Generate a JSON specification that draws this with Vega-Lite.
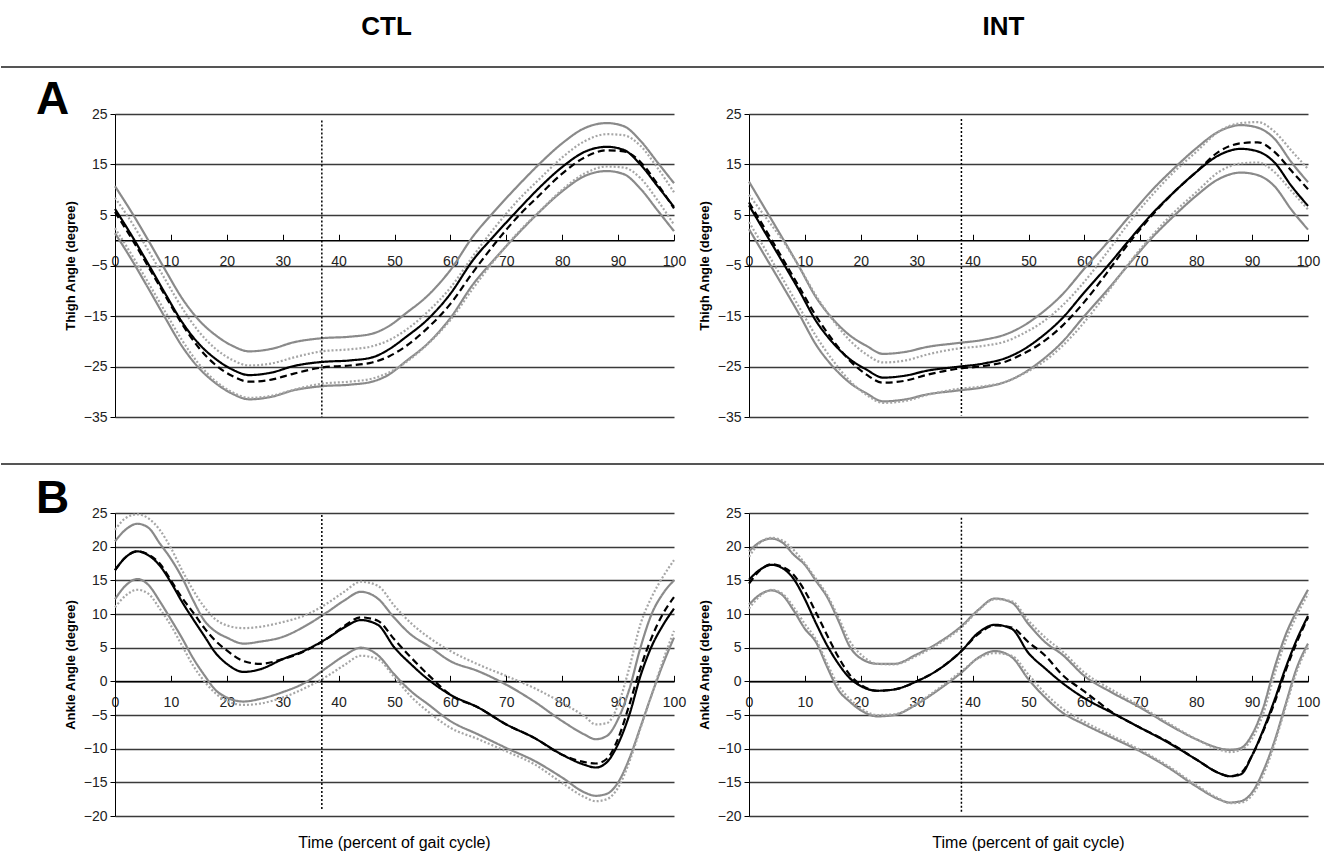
{
"$schema":"https://vega.github.io/schema/vega-lite/v6.json",
"background":"white",
"padding":0,
"columns":5,
"spacing":{"row":47,"column":0},
"bounds":"flush",
"config":{
 "view":{"stroke":null},
 "font":"Liberation Sans",
 "axis":{"labelFont":"Liberation Sans","titleFont":"Liberation Sans","labelColor":"#222","labelFontSize":14,"domainColor":"black","tickColor":"black","labelFlush":false,"labelOverlap":false,"titleColor":"black"},
 "title":{"font":"Liberation Sans","color":"black"},
 "line":{"interpolate":"monotone"}
},
"datasets":{
"ctlA":[
{"s":"m1","x":0,"y":6.2},{"s":"m1","x":3,"y":0.9},{"s":"m1","x":6,"y":-4.8},{"s":"m1","x":9,"y":-10.6},{"s":"m1","x":12,"y":-16.2},{"s":"m1","x":15,"y":-20.5},{"s":"m1","x":18,"y":-23.5},{"s":"m1","x":21,"y":-25.6},{"s":"m1","x":24,"y":-26.7},{"s":"m1","x":28,"y":-26.2},{"s":"m1","x":32,"y":-24.9},{"s":"m1","x":37,"y":-24.1},{"s":"m1","x":42,"y":-23.8},{"s":"m1","x":46,"y":-23.2},{"s":"m1","x":49,"y":-21.6},{"s":"m1","x":52,"y":-19.2},{"s":"m1","x":56,"y":-15.6},{"s":"m1","x":60,"y":-10.6},{"s":"m1","x":64,"y":-4.0},{"s":"m1","x":68,"y":1.1},{"s":"m1","x":72,"y":5.9},{"s":"m1","x":76,"y":10.5},{"s":"m1","x":80,"y":14.5},{"s":"m1","x":84,"y":17.5},{"s":"m1","x":88,"y":18.5},{"s":"m1","x":91,"y":17.9},{"s":"m1","x":94,"y":15.0},{"s":"m1","x":97,"y":10.8},{"s":"m1","x":100,"y":6.6},
{"s":"m2","x":0,"y":5.6},{"s":"m2","x":3,"y":0.3},{"s":"m2","x":6,"y":-5.3},{"s":"m2","x":9,"y":-11.0},{"s":"m2","x":12,"y":-16.6},{"s":"m2","x":15,"y":-21.3},{"s":"m2","x":18,"y":-24.7},{"s":"m2","x":21,"y":-26.9},{"s":"m2","x":24,"y":-28.0},{"s":"m2","x":28,"y":-27.6},{"s":"m2","x":32,"y":-26.4},{"s":"m2","x":37,"y":-25.2},{"s":"m2","x":42,"y":-24.8},{"s":"m2","x":46,"y":-24.2},{"s":"m2","x":49,"y":-23.0},{"s":"m2","x":52,"y":-21.0},{"s":"m2","x":56,"y":-17.3},{"s":"m2","x":60,"y":-12.6},{"s":"m2","x":64,"y":-6.4},{"s":"m2","x":68,"y":-0.6},{"s":"m2","x":72,"y":4.6},{"s":"m2","x":76,"y":9.0},{"s":"m2","x":80,"y":13.2},{"s":"m2","x":84,"y":16.4},{"s":"m2","x":88,"y":17.8},{"s":"m2","x":91,"y":17.6},{"s":"m2","x":94,"y":15.5},{"s":"m2","x":97,"y":11.2},{"s":"m2","x":100,"y":6.3},
{"s":"u1","x":0,"y":10.7},{"s":"u1","x":3,"y":5.5},{"s":"u1","x":6,"y":-0.1},{"s":"u1","x":9,"y":-5.9},{"s":"u1","x":12,"y":-11.5},{"s":"u1","x":15,"y":-15.8},{"s":"u1","x":18,"y":-18.8},{"s":"u1","x":21,"y":-20.9},{"s":"u1","x":24,"y":-22.0},{"s":"u1","x":28,"y":-21.5},{"s":"u1","x":32,"y":-20.2},{"s":"u1","x":37,"y":-19.4},{"s":"u1","x":42,"y":-19.1},{"s":"u1","x":46,"y":-18.5},{"s":"u1","x":49,"y":-17.0},{"s":"u1","x":52,"y":-14.5},{"s":"u1","x":56,"y":-10.9},{"s":"u1","x":60,"y":-5.9},{"s":"u1","x":64,"y":0.7},{"s":"u1","x":68,"y":5.9},{"s":"u1","x":72,"y":10.7},{"s":"u1","x":76,"y":15.2},{"s":"u1","x":80,"y":19.2},{"s":"u1","x":84,"y":22.2},{"s":"u1","x":88,"y":23.2},{"s":"u1","x":91,"y":22.6},{"s":"u1","x":94,"y":19.7},{"s":"u1","x":97,"y":15.5},{"s":"u1","x":100,"y":11.3},
{"s":"l1","x":0,"y":1.4},{"s":"l1","x":3,"y":-3.9},{"s":"l1","x":6,"y":-9.6},{"s":"l1","x":9,"y":-15.4},{"s":"l1","x":12,"y":-21.0},{"s":"l1","x":15,"y":-25.3},{"s":"l1","x":18,"y":-28.3},{"s":"l1","x":21,"y":-30.4},{"s":"l1","x":24,"y":-31.5},{"s":"l1","x":28,"y":-31.0},{"s":"l1","x":32,"y":-29.7},{"s":"l1","x":37,"y":-28.9},{"s":"l1","x":42,"y":-28.6},{"s":"l1","x":46,"y":-28.0},{"s":"l1","x":49,"y":-26.6},{"s":"l1","x":52,"y":-24.0},{"s":"l1","x":56,"y":-20.4},{"s":"l1","x":60,"y":-15.4},{"s":"l1","x":64,"y":-8.8},{"s":"l1","x":68,"y":-3.6},{"s":"l1","x":72,"y":1.2},{"s":"l1","x":76,"y":5.7},{"s":"l1","x":80,"y":9.7},{"s":"l1","x":84,"y":12.7},{"s":"l1","x":88,"y":13.7},{"s":"l1","x":91,"y":13.1},{"s":"l1","x":94,"y":10.2},{"s":"l1","x":97,"y":6.0},{"s":"l1","x":100,"y":1.8},
{"s":"u2","x":0,"y":8.4},{"s":"u2","x":3,"y":3.5},{"s":"u2","x":6,"y":-2.1},{"s":"u2","x":9,"y":-7.8},{"s":"u2","x":12,"y":-13.4},{"s":"u2","x":15,"y":-18.1},{"s":"u2","x":18,"y":-21.5},{"s":"u2","x":21,"y":-23.7},{"s":"u2","x":24,"y":-24.8},{"s":"u2","x":28,"y":-24.4},{"s":"u2","x":32,"y":-23.2},{"s":"u2","x":37,"y":-22.0},{"s":"u2","x":42,"y":-21.6},{"s":"u2","x":46,"y":-21.0},{"s":"u2","x":49,"y":-19.8},{"s":"u2","x":52,"y":-17.8},{"s":"u2","x":56,"y":-14.1},{"s":"u2","x":60,"y":-9.4},{"s":"u2","x":64,"y":-3.2},{"s":"u2","x":68,"y":2.6},{"s":"u2","x":72,"y":7.8},{"s":"u2","x":76,"y":12.2},{"s":"u2","x":80,"y":16.4},{"s":"u2","x":84,"y":19.6},{"s":"u2","x":88,"y":21.0},{"s":"u2","x":91,"y":20.8},{"s":"u2","x":94,"y":18.7},{"s":"u2","x":97,"y":14.4},{"s":"u2","x":100,"y":9.5},
{"s":"l2","x":0,"y":2.4},{"s":"l2","x":3,"y":-2.9},{"s":"l2","x":6,"y":-8.5},{"s":"l2","x":9,"y":-14.2},{"s":"l2","x":12,"y":-19.8},{"s":"l2","x":15,"y":-24.5},{"s":"l2","x":18,"y":-27.9},{"s":"l2","x":21,"y":-30.1},{"s":"l2","x":24,"y":-31.2},{"s":"l2","x":28,"y":-30.8},{"s":"l2","x":32,"y":-29.6},{"s":"l2","x":37,"y":-28.4},{"s":"l2","x":42,"y":-28.0},{"s":"l2","x":46,"y":-27.4},{"s":"l2","x":49,"y":-26.2},{"s":"l2","x":52,"y":-24.2},{"s":"l2","x":56,"y":-20.5},{"s":"l2","x":60,"y":-15.8},{"s":"l2","x":64,"y":-9.6},{"s":"l2","x":68,"y":-3.8},{"s":"l2","x":72,"y":1.4},{"s":"l2","x":76,"y":5.8},{"s":"l2","x":80,"y":10.0},{"s":"l2","x":84,"y":13.2},{"s":"l2","x":88,"y":14.6},{"s":"l2","x":91,"y":14.4},{"s":"l2","x":94,"y":12.3},{"s":"l2","x":97,"y":8.0},{"s":"l2","x":100,"y":3.1}
],
"intA":[
{"s":"m1","x":0,"y":6.9},{"s":"m1","x":3,"y":1.3},{"s":"m1","x":6,"y":-4.3},{"s":"m1","x":9,"y":-10.0},{"s":"m1","x":12,"y":-16.0},{"s":"m1","x":15,"y":-20.3},{"s":"m1","x":18,"y":-23.5},{"s":"m1","x":21,"y":-25.6},{"s":"m1","x":24,"y":-27.2},{"s":"m1","x":28,"y":-26.8},{"s":"m1","x":32,"y":-25.8},{"s":"m1","x":37,"y":-25.1},{"s":"m1","x":42,"y":-24.4},{"s":"m1","x":46,"y":-23.3},{"s":"m1","x":49,"y":-21.7},{"s":"m1","x":52,"y":-19.4},{"s":"m1","x":56,"y":-15.5},{"s":"m1","x":60,"y":-10.3},{"s":"m1","x":64,"y":-5.3},{"s":"m1","x":68,"y":0.0},{"s":"m1","x":72,"y":5.1},{"s":"m1","x":76,"y":9.5},{"s":"m1","x":80,"y":13.5},{"s":"m1","x":84,"y":16.8},{"s":"m1","x":88,"y":18.1},{"s":"m1","x":91,"y":17.6},{"s":"m1","x":94,"y":15.4},{"s":"m1","x":97,"y":10.8},{"s":"m1","x":100,"y":6.8},
{"s":"m2","x":0,"y":7.5},{"s":"m2","x":3,"y":2.0},{"s":"m2","x":6,"y":-3.6},{"s":"m2","x":9,"y":-9.3},{"s":"m2","x":12,"y":-15.0},{"s":"m2","x":15,"y":-19.8},{"s":"m2","x":18,"y":-23.8},{"s":"m2","x":21,"y":-26.6},{"s":"m2","x":24,"y":-28.2},{"s":"m2","x":28,"y":-27.8},{"s":"m2","x":32,"y":-26.6},{"s":"m2","x":37,"y":-25.5},{"s":"m2","x":42,"y":-24.9},{"s":"m2","x":46,"y":-24.0},{"s":"m2","x":49,"y":-22.5},{"s":"m2","x":52,"y":-20.6},{"s":"m2","x":56,"y":-17.0},{"s":"m2","x":60,"y":-12.2},{"s":"m2","x":64,"y":-6.5},{"s":"m2","x":68,"y":-0.5},{"s":"m2","x":72,"y":4.8},{"s":"m2","x":76,"y":9.5},{"s":"m2","x":80,"y":13.5},{"s":"m2","x":84,"y":17.5},{"s":"m2","x":88,"y":19.2},{"s":"m2","x":91,"y":19.4},{"s":"m2","x":94,"y":17.5},{"s":"m2","x":97,"y":13.8},{"s":"m2","x":100,"y":10.1},
{"s":"u1","x":0,"y":11.6},{"s":"u1","x":3,"y":6.0},{"s":"u1","x":6,"y":0.4},{"s":"u1","x":9,"y":-5.3},{"s":"u1","x":12,"y":-11.3},{"s":"u1","x":15,"y":-15.6},{"s":"u1","x":18,"y":-18.8},{"s":"u1","x":21,"y":-20.9},{"s":"u1","x":24,"y":-22.5},{"s":"u1","x":28,"y":-22.1},{"s":"u1","x":32,"y":-21.1},{"s":"u1","x":37,"y":-20.4},{"s":"u1","x":42,"y":-19.7},{"s":"u1","x":46,"y":-18.6},{"s":"u1","x":49,"y":-17.0},{"s":"u1","x":52,"y":-14.7},{"s":"u1","x":56,"y":-10.8},{"s":"u1","x":60,"y":-5.6},{"s":"u1","x":64,"y":-0.6},{"s":"u1","x":68,"y":4.7},{"s":"u1","x":72,"y":9.8},{"s":"u1","x":76,"y":14.2},{"s":"u1","x":80,"y":18.2},{"s":"u1","x":84,"y":21.5},{"s":"u1","x":88,"y":22.8},{"s":"u1","x":91,"y":22.3},{"s":"u1","x":94,"y":20.1},{"s":"u1","x":97,"y":15.5},{"s":"u1","x":100,"y":11.5},
{"s":"l1","x":0,"y":2.2},{"s":"l1","x":3,"y":-3.4},{"s":"l1","x":6,"y":-9.0},{"s":"l1","x":9,"y":-14.7},{"s":"l1","x":12,"y":-20.7},{"s":"l1","x":15,"y":-25.0},{"s":"l1","x":18,"y":-28.2},{"s":"l1","x":21,"y":-30.3},{"s":"l1","x":24,"y":-31.9},{"s":"l1","x":28,"y":-31.5},{"s":"l1","x":32,"y":-30.5},{"s":"l1","x":37,"y":-29.8},{"s":"l1","x":42,"y":-29.1},{"s":"l1","x":46,"y":-28.0},{"s":"l1","x":49,"y":-26.4},{"s":"l1","x":52,"y":-24.1},{"s":"l1","x":56,"y":-20.2},{"s":"l1","x":60,"y":-15.0},{"s":"l1","x":64,"y":-10.0},{"s":"l1","x":68,"y":-4.7},{"s":"l1","x":72,"y":0.4},{"s":"l1","x":76,"y":4.8},{"s":"l1","x":80,"y":8.8},{"s":"l1","x":84,"y":12.1},{"s":"l1","x":88,"y":13.4},{"s":"l1","x":91,"y":12.9},{"s":"l1","x":94,"y":10.7},{"s":"l1","x":97,"y":6.1},{"s":"l1","x":100,"y":2.1},
{"s":"u2","x":0,"y":9.0},{"s":"u2","x":3,"y":4.5},{"s":"u2","x":6,"y":0.0},{"s":"u2","x":9,"y":-5.3},{"s":"u2","x":12,"y":-11.0},{"s":"u2","x":15,"y":-15.8},{"s":"u2","x":18,"y":-19.8},{"s":"u2","x":21,"y":-22.6},{"s":"u2","x":24,"y":-24.2},{"s":"u2","x":28,"y":-23.8},{"s":"u2","x":32,"y":-22.6},{"s":"u2","x":37,"y":-21.5},{"s":"u2","x":42,"y":-20.9},{"s":"u2","x":46,"y":-20.0},{"s":"u2","x":49,"y":-18.5},{"s":"u2","x":52,"y":-16.6},{"s":"u2","x":56,"y":-13.0},{"s":"u2","x":60,"y":-8.2},{"s":"u2","x":64,"y":-2.5},{"s":"u2","x":68,"y":3.5},{"s":"u2","x":72,"y":8.8},{"s":"u2","x":76,"y":13.5},{"s":"u2","x":80,"y":17.5},{"s":"u2","x":84,"y":21.5},{"s":"u2","x":88,"y":23.2},{"s":"u2","x":91,"y":23.4},{"s":"u2","x":94,"y":21.5},{"s":"u2","x":97,"y":17.8},{"s":"u2","x":100,"y":14.1},
{"s":"l2","x":0,"y":3.6},{"s":"l2","x":3,"y":-2.0},{"s":"l2","x":6,"y":-7.6},{"s":"l2","x":9,"y":-13.3},{"s":"l2","x":12,"y":-19.0},{"s":"l2","x":15,"y":-23.8},{"s":"l2","x":18,"y":-27.8},{"s":"l2","x":21,"y":-30.6},{"s":"l2","x":24,"y":-32.2},{"s":"l2","x":28,"y":-31.8},{"s":"l2","x":32,"y":-30.6},{"s":"l2","x":37,"y":-29.5},{"s":"l2","x":42,"y":-28.9},{"s":"l2","x":46,"y":-28.0},{"s":"l2","x":49,"y":-26.5},{"s":"l2","x":52,"y":-24.6},{"s":"l2","x":56,"y":-21.0},{"s":"l2","x":60,"y":-16.2},{"s":"l2","x":64,"y":-10.5},{"s":"l2","x":68,"y":-4.5},{"s":"l2","x":72,"y":0.8},{"s":"l2","x":76,"y":5.5},{"s":"l2","x":80,"y":9.5},{"s":"l2","x":84,"y":13.5},{"s":"l2","x":88,"y":15.2},{"s":"l2","x":91,"y":15.4},{"s":"l2","x":94,"y":13.5},{"s":"l2","x":97,"y":9.8},{"s":"l2","x":100,"y":6.1}
],
"ctlB":[
{"s":"m1","x":0,"y":16.5},{"s":"m1","x":2,"y":18.5},{"s":"m1","x":4,"y":19.3},{"s":"m1","x":6,"y":18.7},{"s":"m1","x":8,"y":17.2},{"s":"m1","x":10,"y":14.7},{"s":"m1","x":12,"y":11.8},{"s":"m1","x":14,"y":9.2},{"s":"m1","x":16,"y":6.7},{"s":"m1","x":18,"y":4.2},{"s":"m1","x":20,"y":2.6},{"s":"m1","x":23,"y":1.4},{"s":"m1","x":26,"y":1.8},{"s":"m1","x":30,"y":3.3},{"s":"m1","x":34,"y":4.6},{"s":"m1","x":38,"y":6.4},{"s":"m1","x":41,"y":8.0},{"s":"m1","x":44,"y":9.1},{"s":"m1","x":47,"y":8.4},{"s":"m1","x":50,"y":5.0},{"s":"m1","x":53,"y":2.5},{"s":"m1","x":56,"y":0.3},{"s":"m1","x":60,"y":-2.0},{"s":"m1","x":65,"y":-3.9},{"s":"m1","x":70,"y":-6.4},{"s":"m1","x":75,"y":-8.4},{"s":"m1","x":80,"y":-10.9},{"s":"m1","x":84,"y":-12.4},{"s":"m1","x":86,"y":-12.8},{"s":"m1","x":88,"y":-12.0},{"s":"m1","x":90,"y":-9.3},{"s":"m1","x":92,"y":-5.0},{"s":"m1","x":94,"y":0.8},{"s":"m1","x":96,"y":5.2},{"s":"m1","x":98,"y":8.3},{"s":"m1","x":100,"y":10.8},
{"s":"m2","x":0,"y":16.5},{"s":"m2","x":2,"y":18.5},{"s":"m2","x":4,"y":19.3},{"s":"m2","x":6,"y":18.8},{"s":"m2","x":8,"y":17.5},{"s":"m2","x":10,"y":15.0},{"s":"m2","x":12,"y":12.4},{"s":"m2","x":14,"y":10.2},{"s":"m2","x":16,"y":7.9},{"s":"m2","x":18,"y":6.0},{"s":"m2","x":20,"y":4.6},{"s":"m2","x":23,"y":3.0},{"s":"m2","x":26,"y":2.6},{"s":"m2","x":30,"y":3.3},{"s":"m2","x":34,"y":4.5},{"s":"m2","x":38,"y":6.4},{"s":"m2","x":41,"y":8.2},{"s":"m2","x":44,"y":9.5},{"s":"m2","x":47,"y":9.0},{"s":"m2","x":50,"y":6.2},{"s":"m2","x":53,"y":3.5},{"s":"m2","x":56,"y":1.0},{"s":"m2","x":60,"y":-2.0},{"s":"m2","x":65,"y":-3.9},{"s":"m2","x":70,"y":-6.4},{"s":"m2","x":75,"y":-8.4},{"s":"m2","x":80,"y":-10.9},{"s":"m2","x":84,"y":-12.0},{"s":"m2","x":86,"y":-12.2},{"s":"m2","x":88,"y":-11.5},{"s":"m2","x":90,"y":-8.5},{"s":"m2","x":92,"y":-3.5},{"s":"m2","x":94,"y":2.0},{"s":"m2","x":96,"y":6.5},{"s":"m2","x":98,"y":10.0},{"s":"m2","x":100,"y":12.5},
{"s":"u1","x":0,"y":20.8},{"s":"u1","x":2,"y":22.6},{"s":"u1","x":4,"y":23.4},{"s":"u1","x":6,"y":22.8},{"s":"u1","x":8,"y":20.5},{"s":"u1","x":10,"y":18.2},{"s":"u1","x":12,"y":15.4},{"s":"u1","x":14,"y":12.0},{"s":"u1","x":16,"y":9.0},{"s":"u1","x":18,"y":7.4},{"s":"u1","x":20,"y":6.5},{"s":"u1","x":23,"y":5.6},{"s":"u1","x":26,"y":5.9},{"s":"u1","x":30,"y":6.6},{"s":"u1","x":34,"y":8.2},{"s":"u1","x":38,"y":10.3},{"s":"u1","x":41,"y":12.0},{"s":"u1","x":44,"y":13.3},{"s":"u1","x":47,"y":12.3},{"s":"u1","x":50,"y":9.4},{"s":"u1","x":53,"y":6.9},{"s":"u1","x":56,"y":5.3},{"s":"u1","x":60,"y":3.0},{"s":"u1","x":65,"y":1.5},{"s":"u1","x":70,"y":-0.5},{"s":"u1","x":75,"y":-3.0},{"s":"u1","x":80,"y":-5.9},{"s":"u1","x":84,"y":-7.9},{"s":"u1","x":86,"y":-8.6},{"s":"u1","x":88,"y":-8.1},{"s":"u1","x":90,"y":-5.6},{"s":"u1","x":92,"y":-1.2},{"s":"u1","x":94,"y":5.0},{"s":"u1","x":96,"y":10.0},{"s":"u1","x":98,"y":13.0},{"s":"u1","x":100,"y":15.0},
{"s":"l1","x":0,"y":12.2},{"s":"l1","x":2,"y":14.3},{"s":"l1","x":4,"y":15.2},{"s":"l1","x":6,"y":14.3},{"s":"l1","x":8,"y":11.9},{"s":"l1","x":10,"y":9.2},{"s":"l1","x":12,"y":6.4},{"s":"l1","x":14,"y":3.4},{"s":"l1","x":16,"y":0.9},{"s":"l1","x":18,"y":-1.3},{"s":"l1","x":20,"y":-2.4},{"s":"l1","x":23,"y":-3.0},{"s":"l1","x":26,"y":-2.6},{"s":"l1","x":30,"y":-1.6},{"s":"l1","x":34,"y":-0.2},{"s":"l1","x":38,"y":2.1},{"s":"l1","x":41,"y":3.8},{"s":"l1","x":44,"y":5.0},{"s":"l1","x":47,"y":3.9},{"s":"l1","x":50,"y":1.0},{"s":"l1","x":53,"y":-1.5},{"s":"l1","x":56,"y":-3.4},{"s":"l1","x":60,"y":-5.9},{"s":"l1","x":65,"y":-7.9},{"s":"l1","x":70,"y":-9.9},{"s":"l1","x":75,"y":-11.8},{"s":"l1","x":80,"y":-14.3},{"s":"l1","x":84,"y":-16.5},{"s":"l1","x":86,"y":-17.0},{"s":"l1","x":88,"y":-16.7},{"s":"l1","x":90,"y":-15.0},{"s":"l1","x":92,"y":-11.5},{"s":"l1","x":94,"y":-6.8},{"s":"l1","x":96,"y":-2.0},{"s":"l1","x":98,"y":2.5},{"s":"l1","x":100,"y":6.5},
{"s":"u2","x":0,"y":22.5},{"s":"u2","x":2,"y":24.3},{"s":"u2","x":4,"y":24.8},{"s":"u2","x":6,"y":24.2},{"s":"u2","x":8,"y":22.5},{"s":"u2","x":10,"y":19.8},{"s":"u2","x":12,"y":16.5},{"s":"u2","x":14,"y":13.5},{"s":"u2","x":16,"y":11.0},{"s":"u2","x":18,"y":9.2},{"s":"u2","x":20,"y":8.3},{"s":"u2","x":23,"y":7.9},{"s":"u2","x":26,"y":8.1},{"s":"u2","x":30,"y":8.8},{"s":"u2","x":34,"y":9.8},{"s":"u2","x":38,"y":11.6},{"s":"u2","x":41,"y":13.3},{"s":"u2","x":44,"y":14.8},{"s":"u2","x":47,"y":14.2},{"s":"u2","x":50,"y":11.2},{"s":"u2","x":53,"y":8.6},{"s":"u2","x":56,"y":6.6},{"s":"u2","x":60,"y":4.5},{"s":"u2","x":65,"y":2.5},{"s":"u2","x":70,"y":0.8},{"s":"u2","x":75,"y":-1.0},{"s":"u2","x":80,"y":-3.2},{"s":"u2","x":84,"y":-5.2},{"s":"u2","x":86,"y":-6.4},{"s":"u2","x":88,"y":-6.2},{"s":"u2","x":90,"y":-3.5},{"s":"u2","x":92,"y":2.0},{"s":"u2","x":94,"y":8.5},{"s":"u2","x":96,"y":12.5},{"s":"u2","x":98,"y":15.5},{"s":"u2","x":100,"y":18.0},
{"s":"l2","x":0,"y":11.0},{"s":"l2","x":2,"y":12.8},{"s":"l2","x":4,"y":13.6},{"s":"l2","x":6,"y":13.0},{"s":"l2","x":8,"y":10.8},{"s":"l2","x":10,"y":8.3},{"s":"l2","x":12,"y":5.3},{"s":"l2","x":14,"y":2.3},{"s":"l2","x":16,"y":0.0},{"s":"l2","x":18,"y":-1.8},{"s":"l2","x":20,"y":-2.9},{"s":"l2","x":23,"y":-3.5},{"s":"l2","x":26,"y":-3.3},{"s":"l2","x":30,"y":-2.4},{"s":"l2","x":34,"y":-1.0},{"s":"l2","x":38,"y":0.8},{"s":"l2","x":41,"y":2.4},{"s":"l2","x":44,"y":3.8},{"s":"l2","x":47,"y":3.3},{"s":"l2","x":50,"y":0.6},{"s":"l2","x":53,"y":-2.3},{"s":"l2","x":56,"y":-4.5},{"s":"l2","x":60,"y":-6.9},{"s":"l2","x":65,"y":-8.6},{"s":"l2","x":70,"y":-10.4},{"s":"l2","x":75,"y":-12.3},{"s":"l2","x":80,"y":-15.1},{"s":"l2","x":84,"y":-17.2},{"s":"l2","x":86,"y":-17.8},{"s":"l2","x":88,"y":-17.5},{"s":"l2","x":90,"y":-15.8},{"s":"l2","x":92,"y":-12.0},{"s":"l2","x":94,"y":-7.0},{"s":"l2","x":96,"y":-2.0},{"s":"l2","x":98,"y":3.0},{"s":"l2","x":100,"y":7.5}
],
"intB":[
{"s":"m1","x":0,"y":15.1},{"s":"m1","x":2,"y":16.6},{"s":"m1","x":4,"y":17.3},{"s":"m1","x":6,"y":16.8},{"s":"m1","x":8,"y":15.2},{"s":"m1","x":10,"y":12.2},{"s":"m1","x":12,"y":8.6},{"s":"m1","x":14,"y":5.3},{"s":"m1","x":16,"y":2.6},{"s":"m1","x":18,"y":0.5},{"s":"m1","x":20,"y":-0.7},{"s":"m1","x":23,"y":-1.4},{"s":"m1","x":26,"y":-1.2},{"s":"m1","x":30,"y":0.0},{"s":"m1","x":34,"y":1.8},{"s":"m1","x":38,"y":4.5},{"s":"m1","x":41,"y":7.2},{"s":"m1","x":44,"y":8.4},{"s":"m1","x":47,"y":7.8},{"s":"m1","x":50,"y":4.2},{"s":"m1","x":53,"y":1.9},{"s":"m1","x":56,"y":-0.2},{"s":"m1","x":60,"y":-2.5},{"s":"m1","x":65,"y":-4.7},{"s":"m1","x":70,"y":-6.9},{"s":"m1","x":75,"y":-9.1},{"s":"m1","x":80,"y":-11.6},{"s":"m1","x":84,"y":-13.6},{"s":"m1","x":86,"y":-14.1},{"s":"m1","x":88,"y":-13.8},{"s":"m1","x":90,"y":-11.0},{"s":"m1","x":92,"y":-7.2},{"s":"m1","x":94,"y":-2.8},{"s":"m1","x":96,"y":2.0},{"s":"m1","x":98,"y":6.2},{"s":"m1","x":100,"y":9.7},
{"s":"m2","x":0,"y":14.5},{"s":"m2","x":2,"y":16.5},{"s":"m2","x":4,"y":17.4},{"s":"m2","x":6,"y":17.0},{"s":"m2","x":8,"y":15.8},{"s":"m2","x":10,"y":13.4},{"s":"m2","x":12,"y":10.2},{"s":"m2","x":14,"y":6.8},{"s":"m2","x":16,"y":3.6},{"s":"m2","x":18,"y":1.0},{"s":"m2","x":20,"y":-0.5},{"s":"m2","x":23,"y":-1.4},{"s":"m2","x":26,"y":-1.2},{"s":"m2","x":30,"y":0.0},{"s":"m2","x":34,"y":1.8},{"s":"m2","x":38,"y":4.5},{"s":"m2","x":41,"y":7.0},{"s":"m2","x":44,"y":8.3},{"s":"m2","x":47,"y":8.0},{"s":"m2","x":50,"y":5.8},{"s":"m2","x":53,"y":3.8},{"s":"m2","x":56,"y":1.0},{"s":"m2","x":60,"y":-1.5},{"s":"m2","x":65,"y":-4.6},{"s":"m2","x":70,"y":-6.9},{"s":"m2","x":75,"y":-9.0},{"s":"m2","x":80,"y":-11.6},{"s":"m2","x":84,"y":-13.6},{"s":"m2","x":86,"y":-14.1},{"s":"m2","x":88,"y":-13.6},{"s":"m2","x":90,"y":-11.0},{"s":"m2","x":92,"y":-7.4},{"s":"m2","x":94,"y":-3.2},{"s":"m2","x":96,"y":1.6},{"s":"m2","x":98,"y":5.8},{"s":"m2","x":100,"y":9.5},
{"s":"u1","x":0,"y":19.3},{"s":"u1","x":2,"y":20.7},{"s":"u1","x":4,"y":21.2},{"s":"u1","x":6,"y":20.6},{"s":"u1","x":8,"y":18.8},{"s":"u1","x":10,"y":17.3},{"s":"u1","x":12,"y":14.9},{"s":"u1","x":14,"y":12.5},{"s":"u1","x":16,"y":9.0},{"s":"u1","x":18,"y":5.2},{"s":"u1","x":20,"y":3.4},{"s":"u1","x":23,"y":2.6},{"s":"u1","x":26,"y":2.6},{"s":"u1","x":30,"y":4.0},{"s":"u1","x":34,"y":5.8},{"s":"u1","x":38,"y":8.2},{"s":"u1","x":41,"y":10.6},{"s":"u1","x":44,"y":12.3},{"s":"u1","x":47,"y":11.7},{"s":"u1","x":50,"y":8.5},{"s":"u1","x":53,"y":5.8},{"s":"u1","x":56,"y":4.0},{"s":"u1","x":60,"y":0.8},{"s":"u1","x":65,"y":-1.7},{"s":"u1","x":70,"y":-3.9},{"s":"u1","x":75,"y":-6.4},{"s":"u1","x":80,"y":-8.6},{"s":"u1","x":84,"y":-9.9},{"s":"u1","x":86,"y":-10.2},{"s":"u1","x":88,"y":-9.9},{"s":"u1","x":90,"y":-7.9},{"s":"u1","x":92,"y":-3.9},{"s":"u1","x":94,"y":2.0},{"s":"u1","x":96,"y":6.9},{"s":"u1","x":98,"y":10.5},{"s":"u1","x":100,"y":13.6},
{"s":"l1","x":0,"y":11.4},{"s":"l1","x":2,"y":12.9},{"s":"l1","x":4,"y":13.5},{"s":"l1","x":6,"y":12.8},{"s":"l1","x":8,"y":10.5},{"s":"l1","x":10,"y":7.8},{"s":"l1","x":12,"y":5.8},{"s":"l1","x":14,"y":2.1},{"s":"l1","x":16,"y":-1.3},{"s":"l1","x":18,"y":-3.0},{"s":"l1","x":20,"y":-4.3},{"s":"l1","x":23,"y":-5.2},{"s":"l1","x":26,"y":-5.0},{"s":"l1","x":30,"y":-3.4},{"s":"l1","x":34,"y":-1.2},{"s":"l1","x":38,"y":1.3},{"s":"l1","x":41,"y":3.5},{"s":"l1","x":44,"y":4.5},{"s":"l1","x":47,"y":3.6},{"s":"l1","x":50,"y":0.3},{"s":"l1","x":53,"y":-2.4},{"s":"l1","x":56,"y":-4.6},{"s":"l1","x":60,"y":-6.4},{"s":"l1","x":65,"y":-8.4},{"s":"l1","x":70,"y":-10.4},{"s":"l1","x":75,"y":-12.8},{"s":"l1","x":80,"y":-15.6},{"s":"l1","x":84,"y":-17.5},{"s":"l1","x":86,"y":-18.0},{"s":"l1","x":88,"y":-17.8},{"s":"l1","x":90,"y":-16.5},{"s":"l1","x":92,"y":-13.3},{"s":"l1","x":94,"y":-8.9},{"s":"l1","x":96,"y":-3.4},{"s":"l1","x":98,"y":2.0},{"s":"l1","x":100,"y":5.6},
{"s":"u2","x":0,"y":18.5},{"s":"u2","x":2,"y":20.6},{"s":"u2","x":4,"y":21.3},{"s":"u2","x":6,"y":20.9},{"s":"u2","x":8,"y":19.5},{"s":"u2","x":10,"y":17.5},{"s":"u2","x":12,"y":15.2},{"s":"u2","x":14,"y":12.8},{"s":"u2","x":16,"y":9.5},{"s":"u2","x":18,"y":6.0},{"s":"u2","x":20,"y":4.0},{"s":"u2","x":23,"y":2.6},{"s":"u2","x":26,"y":2.5},{"s":"u2","x":30,"y":3.8},{"s":"u2","x":34,"y":5.6},{"s":"u2","x":38,"y":8.0},{"s":"u2","x":41,"y":10.5},{"s":"u2","x":44,"y":12.2},{"s":"u2","x":47,"y":11.9},{"s":"u2","x":50,"y":9.0},{"s":"u2","x":53,"y":6.5},{"s":"u2","x":56,"y":4.5},{"s":"u2","x":60,"y":1.3},{"s":"u2","x":65,"y":-1.3},{"s":"u2","x":70,"y":-3.7},{"s":"u2","x":75,"y":-6.2},{"s":"u2","x":80,"y":-8.6},{"s":"u2","x":84,"y":-10.1},{"s":"u2","x":86,"y":-10.5},{"s":"u2","x":88,"y":-10.2},{"s":"u2","x":90,"y":-8.5},{"s":"u2","x":92,"y":-4.8},{"s":"u2","x":94,"y":1.0},{"s":"u2","x":96,"y":6.0},{"s":"u2","x":98,"y":9.8},{"s":"u2","x":100,"y":13.0},
{"s":"l2","x":0,"y":10.8},{"s":"l2","x":2,"y":12.7},{"s":"l2","x":4,"y":13.6},{"s":"l2","x":6,"y":13.0},{"s":"l2","x":8,"y":11.0},{"s":"l2","x":10,"y":8.5},{"s":"l2","x":12,"y":6.2},{"s":"l2","x":14,"y":2.6},{"s":"l2","x":16,"y":-0.6},{"s":"l2","x":18,"y":-2.6},{"s":"l2","x":20,"y":-4.0},{"s":"l2","x":23,"y":-5.0},{"s":"l2","x":26,"y":-4.9},{"s":"l2","x":30,"y":-3.3},{"s":"l2","x":34,"y":-1.0},{"s":"l2","x":38,"y":1.5},{"s":"l2","x":41,"y":3.4},{"s":"l2","x":44,"y":4.2},{"s":"l2","x":47,"y":3.8},{"s":"l2","x":50,"y":1.0},{"s":"l2","x":53,"y":-1.8},{"s":"l2","x":56,"y":-4.0},{"s":"l2","x":60,"y":-6.0},{"s":"l2","x":65,"y":-8.1},{"s":"l2","x":70,"y":-10.2},{"s":"l2","x":75,"y":-12.6},{"s":"l2","x":80,"y":-15.4},{"s":"l2","x":84,"y":-17.4},{"s":"l2","x":86,"y":-18.1},{"s":"l2","x":88,"y":-18.0},{"s":"l2","x":90,"y":-16.9},{"s":"l2","x":92,"y":-13.9},{"s":"l2","x":94,"y":-9.3},{"s":"l2","x":96,"y":-3.8},{"s":"l2","x":98,"y":1.5},{"s":"l2","x":100,"y":5.3}
]
},
"concat":[
{"width":114,"height":67,"data":{"values":[{}]},"mark":{"type":"rule","color":"#555","strokeWidth":2},"encoding":{"y":{"datum":0,"type":"quantitative","scale":{"domain":[0,1]},"axis":null}}},
{"width":559,"height":67,"data":{"values":[{}]},"mark":{"type":"rule","color":"#555","strokeWidth":2},"encoding":{"y":{"datum":0,"type":"quantitative","scale":{"domain":[0,1]},"axis":null}}},
{"width":75,"height":67,"data":{"values":[{}]},"mark":{"type":"rule","color":"#555","strokeWidth":2},"encoding":{"y":{"datum":0,"type":"quantitative","scale":{"domain":[0,1]},"axis":null}}},
{"width":559,"height":67,"data":{"values":[{}]},"mark":{"type":"rule","color":"#555","strokeWidth":2},"encoding":{"y":{"datum":0,"type":"quantitative","scale":{"domain":[0,1]},"axis":null}}},
{"width":17,"height":67,"data":{"values":[{}]},"mark":{"type":"rule","color":"#555","strokeWidth":2},"encoding":{"y":{"datum":0,"type":"quantitative","scale":{"domain":[0,1]},"axis":null}}},

{"width":114,"height":303,"title":{"text":"A","anchor":"start","frame":"group","orient":"top","offset":0,"dy":46,"dx":35,"fontSize":46,"fontWeight":"bold","baseline":"alphabetic"},"data":{"values":[]},"mark":"text","encoding":{}},
{"width":559,"height":303,
 "title":{"text":"CTL","fontSize":26,"fontWeight":"bold","frame":"group","offset":74,"dy":28,"baseline":"alphabetic","anchor":"middle","dx":-8},
 "encoding":{
  "x":{"field":"x","type":"quantitative","scale":{"domain":[0,100],"nice":false,"zero":false},"axis":{"values":[0,10,20,30,40,50,60,70,80,90,100],"title":null,"offset":-176.75,"tickSize":-6,"labelPadding":20,"grid":false,"domainWidth":1.5}},
  "y":{"field":"y","type":"quantitative","scale":{"domain":[-35,25],"nice":false,"zero":false},"axis":{"values":[-35,-25,-15,-5,5,15,25],"grid":true,"gridColor":"#3a3a3a","gridWidth":1.5,"title":"Thigh Angle (degree)","titleFontWeight":"bold","titleFontSize":13,"titlePadding":6,"tickSize":5,"labelPadding":3}}
 },
 "layer":[
  {"data":{"name":"ctlA"},"transform":[{"filter":{"field":"s","oneOf":["u1","l1","u2","l2"]}}],"mark":"line",
   "encoding":{"detail":{"field":"s"},"color":{"field":"s","type":"nominal","scale":{"domain":["m1","m2","u1","l1","u2","l2"],"range":["#000000","#000000","#8a8a8a","#8a8a8a","#a6a6a6","#a6a6a6"]},"legend":null},"strokeDash":{"field":"s","type":"nominal","scale":{"domain":["m1","m2","u1","l1","u2","l2"],"range":[[1,0],[7,4],[1,0],[1,0],[2,2],[2,2]]},"legend":null},"strokeWidth":{"field":"s","type":"ordinal","scale":{"domain":["m1","m2","u1","l1","u2","l2"],"range":[2.2,2.2,1.2,1.2,1,1]},"legend":null}}},
  {"data":{"name":"ctlA"},"transform":[{"filter":{"field":"s","oneOf":["m1","m2"]}}],"mark":"line",
   "encoding":{"detail":{"field":"s"},"color":{"field":"s","type":"nominal","scale":{"domain":["m1","m2","u1","l1","u2","l2"],"range":["#000000","#000000","#8a8a8a","#8a8a8a","#a6a6a6","#a6a6a6"]},"legend":null},"strokeDash":{"field":"s","type":"nominal","scale":{"domain":["m1","m2","u1","l1","u2","l2"],"range":[[1,0],[7,4],[1,0],[1,0],[2,2],[2,2]]},"legend":null},"strokeWidth":{"field":"s","type":"ordinal","scale":{"domain":["m1","m2","u1","l1","u2","l2"],"range":[2.2,2.2,1.2,1.2,1,1]},"legend":null}}},
  {"data":{"values":[{"x":37,"y":23.7,"y2":-35}]},"mark":{"type":"rule","color":"black","strokeWidth":1.5,"strokeDash":[2,2]},"encoding":{"y2":{"field":"y2"}}}
 ]},
{"width":75,"height":303,"data":{"values":[]},"mark":"text","encoding":{}},
{"width":559,"height":303,
 "title":{"text":"INT","fontSize":26,"fontWeight":"bold","frame":"group","offset":74,"dy":28,"baseline":"alphabetic","anchor":"middle","dx":-25},
 "encoding":{
  "x":{"field":"x","type":"quantitative","scale":{"domain":[0,100],"nice":false,"zero":false},"axis":{"values":[0,10,20,30,40,50,60,70,80,90,100],"title":null,"offset":-176.75,"tickSize":-6,"labelPadding":20,"grid":false,"domainWidth":1.5}},
  "y":{"field":"y","type":"quantitative","scale":{"domain":[-35,25],"nice":false,"zero":false},"axis":{"values":[-35,-25,-15,-5,5,15,25],"grid":true,"gridColor":"#3a3a3a","gridWidth":1.5,"title":"Thigh Angle (degree)","titleFontWeight":"bold","titleFontSize":13,"titlePadding":6,"tickSize":5,"labelPadding":3}}
 },
 "layer":[
  {"data":{"name":"intA"},"transform":[{"filter":{"field":"s","oneOf":["u1","l1","u2","l2"]}}],"mark":"line",
   "encoding":{"detail":{"field":"s"},"color":{"field":"s","type":"nominal","scale":{"domain":["m1","m2","u1","l1","u2","l2"],"range":["#000000","#000000","#8a8a8a","#8a8a8a","#a6a6a6","#a6a6a6"]},"legend":null},"strokeDash":{"field":"s","type":"nominal","scale":{"domain":["m1","m2","u1","l1","u2","l2"],"range":[[1,0],[7,4],[1,0],[1,0],[2,2],[2,2]]},"legend":null},"strokeWidth":{"field":"s","type":"ordinal","scale":{"domain":["m1","m2","u1","l1","u2","l2"],"range":[2.2,2.2,1.2,1.2,1,1]},"legend":null}}},
  {"data":{"name":"intA"},"transform":[{"filter":{"field":"s","oneOf":["m1","m2"]}}],"mark":"line",
   "encoding":{"detail":{"field":"s"},"color":{"field":"s","type":"nominal","scale":{"domain":["m1","m2","u1","l1","u2","l2"],"range":["#000000","#000000","#8a8a8a","#8a8a8a","#a6a6a6","#a6a6a6"]},"legend":null},"strokeDash":{"field":"s","type":"nominal","scale":{"domain":["m1","m2","u1","l1","u2","l2"],"range":[[1,0],[7,4],[1,0],[1,0],[2,2],[2,2]]},"legend":null},"strokeWidth":{"field":"s","type":"ordinal","scale":{"domain":["m1","m2","u1","l1","u2","l2"],"range":[2.2,2.2,1.2,1.2,1,1]},"legend":null}}},
  {"data":{"values":[{"x":38,"y":24,"y2":-34.7}]},"mark":{"type":"rule","color":"black","strokeWidth":1.5,"strokeDash":[2,2]},"encoding":{"y2":{"field":"y2"}}}
 ]},
{"width":17,"height":303,"data":{"values":[]},"mark":"text","encoding":{}},

{"width":114,"height":2,"data":{"values":[{}]},"mark":{"type":"rule","color":"#555","strokeWidth":2},"encoding":{"y":{"datum":1,"type":"quantitative","scale":{"domain":[0,1]},"axis":null}}},
{"width":559,"height":2,"data":{"values":[{}]},"mark":{"type":"rule","color":"#555","strokeWidth":2},"encoding":{"y":{"datum":1,"type":"quantitative","scale":{"domain":[0,1]},"axis":null}}},
{"width":75,"height":2,"data":{"values":[{}]},"mark":{"type":"rule","color":"#555","strokeWidth":2},"encoding":{"y":{"datum":1,"type":"quantitative","scale":{"domain":[0,1]},"axis":null}}},
{"width":559,"height":2,"data":{"values":[{}]},"mark":{"type":"rule","color":"#555","strokeWidth":2},"encoding":{"y":{"datum":1,"type":"quantitative","scale":{"domain":[0,1]},"axis":null}}},
{"width":17,"height":2,"data":{"values":[{}]},"mark":{"type":"rule","color":"#555","strokeWidth":2},"encoding":{"y":{"datum":1,"type":"quantitative","scale":{"domain":[0,1]},"axis":null}}},

{"width":114,"height":303,"title":{"text":"B","anchor":"start","frame":"group","orient":"top","offset":0,"dy":46,"dx":35,"fontSize":46,"fontWeight":"bold","baseline":"alphabetic"},"data":{"values":[]},"mark":"text","encoding":{}},
{"width":559,"height":303,
 "title":{"text":"Time (percent of gait cycle)","orient":"bottom","frame":"group","offset":12,"fontSize":16,"fontWeight":"normal","baseline":"top","anchor":"middle"},
 "encoding":{
  "x":{"field":"x","type":"quantitative","scale":{"domain":[0,100],"nice":false,"zero":false},"axis":{"values":[0,10,20,30,40,50,60,70,80,90,100],"title":null,"offset":-134.67,"tickSize":-6,"labelPadding":20,"grid":false,"domainWidth":1.5}},
  "y":{"field":"y","type":"quantitative","scale":{"domain":[-20,25],"nice":false,"zero":false},"axis":{"values":[-20,-15,-10,-5,0,5,10,15,20,25],"grid":true,"gridColor":"#3a3a3a","gridWidth":1.5,"title":"Ankle Angle (degree)","titleFontWeight":"bold","titleFontSize":13,"titlePadding":6,"tickSize":5,"labelPadding":3}}
 },
 "layer":[
  {"data":{"name":"ctlB"},"transform":[{"filter":{"field":"s","oneOf":["u1","l1","u2","l2"]}}],"mark":"line",
   "encoding":{"detail":{"field":"s"},"color":{"field":"s","type":"nominal","scale":{"domain":["m1","m2","u1","l1","u2","l2"],"range":["#000000","#000000","#8a8a8a","#8a8a8a","#a6a6a6","#a6a6a6"]},"legend":null},"strokeDash":{"field":"s","type":"nominal","scale":{"domain":["m1","m2","u1","l1","u2","l2"],"range":[[1,0],[7,4],[1,0],[1,0],[2,2],[2,2]]},"legend":null},"strokeWidth":{"field":"s","type":"ordinal","scale":{"domain":["m1","m2","u1","l1","u2","l2"],"range":[2.2,2.2,1.2,1.2,1,1]},"legend":null}}},
  {"data":{"name":"ctlB"},"transform":[{"filter":{"field":"s","oneOf":["m1","m2"]}}],"mark":"line",
   "encoding":{"detail":{"field":"s"},"color":{"field":"s","type":"nominal","scale":{"domain":["m1","m2","u1","l1","u2","l2"],"range":["#000000","#000000","#8a8a8a","#8a8a8a","#a6a6a6","#a6a6a6"]},"legend":null},"strokeDash":{"field":"s","type":"nominal","scale":{"domain":["m1","m2","u1","l1","u2","l2"],"range":[[1,0],[7,4],[1,0],[1,0],[2,2],[2,2]]},"legend":null},"strokeWidth":{"field":"s","type":"ordinal","scale":{"domain":["m1","m2","u1","l1","u2","l2"],"range":[2.2,2.2,1.2,1.2,1,1]},"legend":null}}},
  {"data":{"values":[{"x":37,"y":24.7,"y2":-19}]},"mark":{"type":"rule","color":"black","strokeWidth":1.5,"strokeDash":[2,2]},"encoding":{"y2":{"field":"y2"}}}
 ]},
{"width":75,"height":303,"data":{"values":[]},"mark":"text","encoding":{}},
{"width":559,"height":303,
 "title":{"text":"Time (percent of gait cycle)","orient":"bottom","frame":"group","offset":12,"fontSize":16,"fontWeight":"normal","baseline":"top","anchor":"middle"},
 "encoding":{
  "x":{"field":"x","type":"quantitative","scale":{"domain":[0,100],"nice":false,"zero":false},"axis":{"values":[0,10,20,30,40,50,60,70,80,90,100],"title":null,"offset":-134.67,"tickSize":-6,"labelPadding":20,"grid":false,"domainWidth":1.5}},
  "y":{"field":"y","type":"quantitative","scale":{"domain":[-20,25],"nice":false,"zero":false},"axis":{"values":[-20,-15,-10,-5,0,5,10,15,20,25],"grid":true,"gridColor":"#3a3a3a","gridWidth":1.5,"title":"Ankle Angle (degree)","titleFontWeight":"bold","titleFontSize":13,"titlePadding":6,"tickSize":5,"labelPadding":3}}
 },
 "layer":[
  {"data":{"name":"intB"},"transform":[{"filter":{"field":"s","oneOf":["u1","l1","u2","l2"]}}],"mark":"line",
   "encoding":{"detail":{"field":"s"},"color":{"field":"s","type":"nominal","scale":{"domain":["m1","m2","u1","l1","u2","l2"],"range":["#000000","#000000","#8a8a8a","#8a8a8a","#a6a6a6","#a6a6a6"]},"legend":null},"strokeDash":{"field":"s","type":"nominal","scale":{"domain":["m1","m2","u1","l1","u2","l2"],"range":[[1,0],[7,4],[1,0],[1,0],[2,2],[2,2]]},"legend":null},"strokeWidth":{"field":"s","type":"ordinal","scale":{"domain":["m1","m2","u1","l1","u2","l2"],"range":[2.2,2.2,1.2,1.2,1,1]},"legend":null}}},
  {"data":{"name":"intB"},"transform":[{"filter":{"field":"s","oneOf":["m1","m2"]}}],"mark":"line",
   "encoding":{"detail":{"field":"s"},"color":{"field":"s","type":"nominal","scale":{"domain":["m1","m2","u1","l1","u2","l2"],"range":["#000000","#000000","#8a8a8a","#8a8a8a","#a6a6a6","#a6a6a6"]},"legend":null},"strokeDash":{"field":"s","type":"nominal","scale":{"domain":["m1","m2","u1","l1","u2","l2"],"range":[[1,0],[7,4],[1,0],[1,0],[2,2],[2,2]]},"legend":null},"strokeWidth":{"field":"s","type":"ordinal","scale":{"domain":["m1","m2","u1","l1","u2","l2"],"range":[2.2,2.2,1.2,1.2,1,1]},"legend":null}}},
  {"data":{"values":[{"x":38,"y":24.3,"y2":-19.5}]},"mark":{"type":"rule","color":"black","strokeWidth":1.5,"strokeDash":[2,2]},"encoding":{"y2":{"field":"y2"}}}
 ]},
{"width":17,"height":303,"data":{"values":[]},"mark":"text","encoding":{}}
]
}
